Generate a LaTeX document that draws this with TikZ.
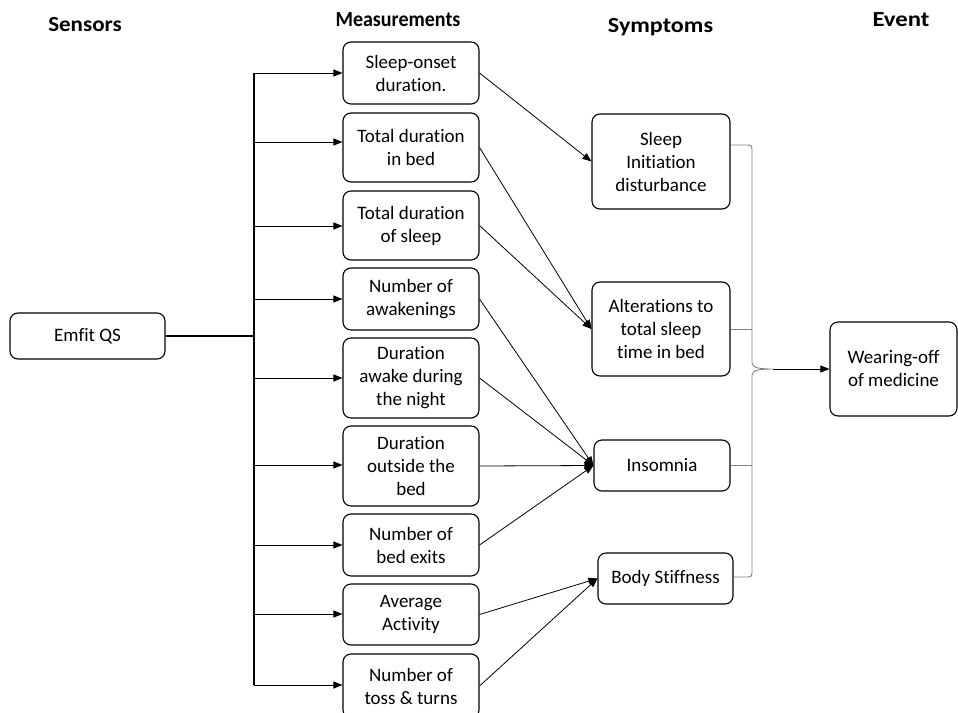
\documentclass[tikz,border=0pt]{standalone}
\usepackage{fontspec}
\usepackage{graphicx}
\setmainfont[Ligatures=NoCommon]{Carlito}
\usetikzlibrary{arrows.meta}
\begin{document}
\begin{tikzpicture}[x=1pt,y=-1pt,
  box/.style={draw,line width=1.1pt,rounded corners=8pt,align=center,inner sep=0pt,
    font=\fontsize{19}{23}\selectfont},
  head/.style={anchor=base,inner sep=0pt,font=\fontsize{21.5}{25}\selectfont\bfseries},
  arr/.style={line width=0.8pt,-{Triangle[length=9pt,width=7pt]}},
  brc/.style={draw=gray,line width=0.9pt}]
\useasboundingbox (0,0) rectangle (958,712);
% headings
\node[head] (hs) at (85,31) {\scalebox{1.07}[1]{Sensors}};
\node[head] (hm) at (398,27) {\scalebox{0.93}[1]{Measurements}};
\node[head] (hy) at (660.5,32) {\scalebox{1.12}[1]{Symptoms}};
\node[head] (he) at (901,27) {\scalebox{1.15}[1]{Event}};
% sensor
\node[box,minimum width=155pt,minimum height=46pt] (em) at (87.5,336) {Emfit QS};
% measurements
\node[box,minimum width=136pt,minimum height=62pt] (m1) at (411,73) {Sleep-onset\\duration.};
\node[box,minimum width=136pt,minimum height=69pt] (m2) at (411,147.5) {Total duration\\in bed};
\node[box,minimum width=136pt,minimum height=69pt] (m3) at (411,225.5) {Total duration\\of sleep};
\node[box,minimum width=136pt,minimum height=62pt] (m4) at (411,299) {Number of\\awakenings};
\node[box,minimum width=136pt,minimum height=80pt] (m5) at (411,378) {Duration\\awake during\\the night};
\node[box,minimum width=136pt,minimum height=80pt] (m6) at (411,466) {Duration\\outside the\\bed};
\node[box,minimum width=136pt,minimum height=62pt] (m7) at (411,545) {Number of\\bed exits};
\node[box,minimum width=136pt,minimum height=61pt] (m8) at (411,614.5) {Average\\Activity};
\node[box,minimum width=136pt,minimum height=64pt] (m9) at (411,686) {Number of\\toss \& turns};
% symptoms
\node[box,minimum width=138pt,minimum height=95pt] (si) at (661,161.5) {Sleep\\Initiation\\disturbance};
\node[box,minimum width=138pt,minimum height=94pt] (al) at (661,329) {Alterations to\\total sleep\\time in bed};
\node[box,minimum width=136pt,minimum height=51pt] (in) at (662,465.5) {Insomnia};
\node[box,minimum width=135pt,minimum height=51pt] (bs) at (665.5,578.5) {Body Stiffness};
% event
\node[box,minimum width=127pt,minimum height=94pt] (wo) at (893.5,369) {Wearing-off\\of medicine};
% tree
\coordinate (j1) at (254,73);
\coordinate (j2) at (254,142);
\coordinate (j3) at (254,226);
\coordinate (j4) at (254,299);
\coordinate (j5) at (254,378);
\coordinate (j6) at (254,465);
\coordinate (j7) at (254,545);
\coordinate (j8) at (254,614);
\coordinate (j9) at (254,685);
\draw[line width=1.3pt] (em.east) -- (em.east -| j1);
\draw[line width=1.1pt] (j1) -- (j9);
\foreach \i in {1,...,9}{
  \draw[arr] (j\i) -- (m\i.west |- j\i);
}
% measurement -> symptom
\draw[arr] (m1.east) -- (si.west);
\draw[arr] (m2.east) -- (al.west);
\draw[arr] (m3.east) -- (al.west);
\draw[arr] (m4.east) -- (in.west);
\draw[arr] (m5.east) -- (in.west);
\draw[arr] (m6.east) -- (in.west);
\draw[arr] (m7.east) -- (in.west);
\draw[arr] (m8.east) -- (bs.west);
\draw[arr] (m9.east) -- (bs.west);
% brace
\coordinate (bt) at (773,369);
\draw[brc] (si.east |- 0,145) -- (745,145) .. controls (752,145) .. (752,152)
  -- (752,363) .. controls (752,368) and (760,369) .. (bt)
  .. controls (760,369) and (752,370) .. (752,375)
  -- (752,570) .. controls (752,577) .. (745,577) -- (bs.east |- 0,577);
\draw[brc] (al.east) -- (752,329);
\draw[brc] (in.east) -- (752,465.5);
\draw[arr] (bt) -- (wo.west);
\end{tikzpicture}
\end{document}
